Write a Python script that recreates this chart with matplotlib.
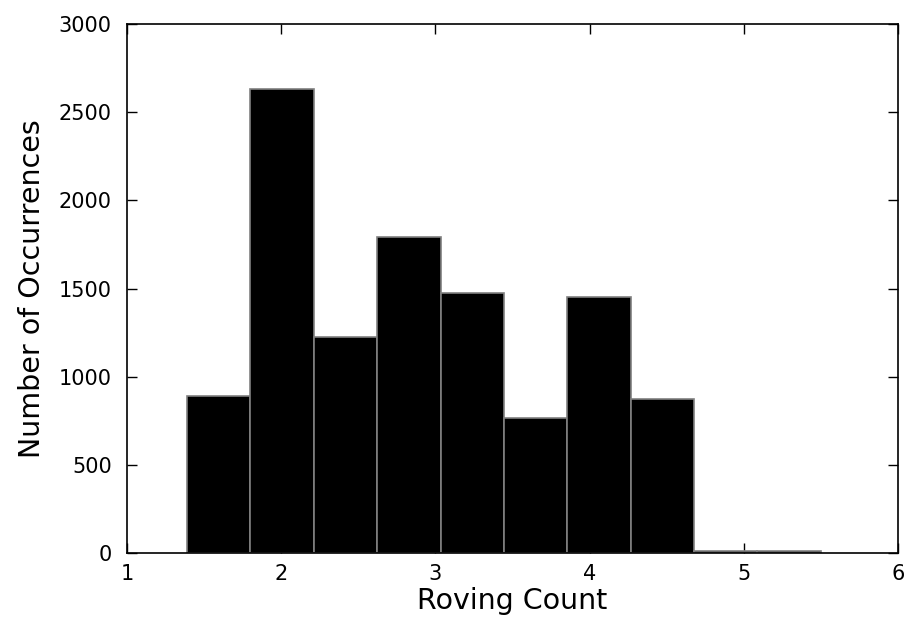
import numpy as np
import matplotlib
matplotlib.use("Agg")
import matplotlib.pyplot as plt

# Histogram of roving counts: 10 equal-width bins
bin_low, bin_high, n_bins = 1.39, 5.5, 10
counts = [890, 2630, 1225, 1790, 1472, 765, 1450, 872, 12, 10]

x_ticks = [1, 2, 3, 4, 5, 6]
y_ticks = [0, 500, 1000, 1500, 2000, 2500, 3000]

plt.rcParams['font.family'] = ['DejaVu Sans']

edges = np.linspace(bin_low, bin_high, n_bins + 1)
widths = np.diff(edges)

fig = plt.figure(figsize=(9.07, 6.37), dpi=100)
ax = fig.add_axes([0.140, 0.132, 0.850, 0.830])

ax.bar(edges[:-1], counts, width=widths, align='edge',
       color='black', edgecolor='#808080', linewidth=1.2, zorder=2)

ax.set_xlim(1, 6)
ax.set_ylim(0, 3000)
ax.set_xticks(x_ticks)
ax.set_yticks(y_ticks)
ax.set_xticklabels([str(v) for v in x_ticks])
ax.set_yticklabels([str(v) for v in y_ticks])

ax.tick_params(direction='in', length=7, width=1, top=True, right=True,
               labelsize=15, colors='black')
ax.tick_params(axis='y', pad=11)
ax.tick_params(axis='x', pad=8)
for sp in ax.spines.values():
    sp.set_linewidth(1.2)
    sp.set_zorder(3)

ax.set_xlabel('Roving Count', fontsize=20.5, labelpad=2)
ax.set_ylabel('Number of Occurrences', fontsize=20.5, labelpad=9)

fig.savefig('out.png', dpi=100)
